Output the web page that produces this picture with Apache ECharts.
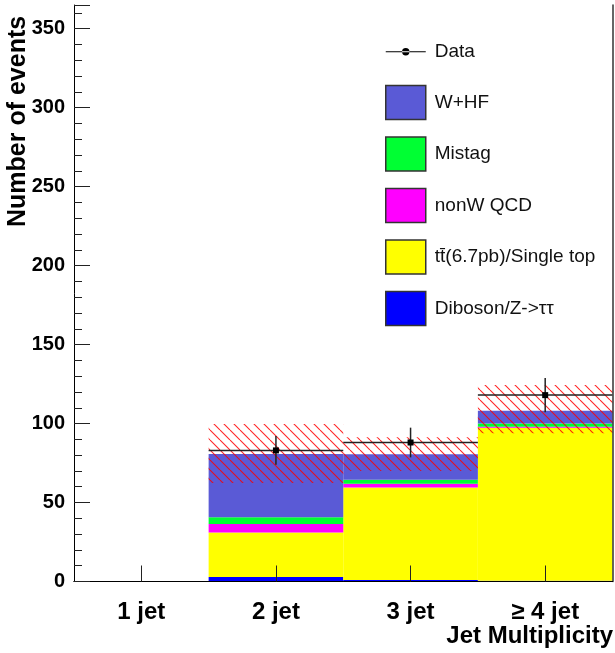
<!DOCTYPE html>
<html>
<head>
<meta charset="utf-8">
<script src="https://cdn.jsdelivr.net/npm/echarts@6/dist/echarts.min.js"></script>
<style>
html,body{margin:0;padding:0;background:#fff;}
#chart{width:615px;height:653px;}
</style>
</head>
<body>
<div id="chart"></div>
<script>
// ---- data ----
const categories = ['1 jet', '2 jet', '3 jet', '\u2265 4 jet'];
const diboson = [0, 2.8, 1.0, 0.5];
const ttbar   = [0, 28.2, 58.5, 96.8];
const nonwqcd = [0, 5.4, 2.4, 0.7];
const mistag  = [0, 4.2, 2.6, 2.0];
const whf     = [0, 40.2, 16.0, 8.1];
const dataVal = [null, 83, 88, 118];
const dataErr = [null, 9.1, 9.4, 10.9];
const bandLow  = [null, 62.3, 70.0, 93.8];
const bandHigh = [null, 99.7, 91.3, 124.4];
const yTicks = [0, 50, 100, 150, 200, 250, 300, 350];

const names = {
  data: 'Data',
  whf: 'W+HF',
  mistag: 'Mistag',
  qcd: 'nonW QCD',
  tt: 't\u0074\u0304(6.7pb)/Single top',
  dib: 'Diboson/Z->\u03c4\u03c4'
};

const FONT = 'Liberation Sans';

// hatch pattern
const T = 10;
const pc = document.createElement('canvas');
pc.width = T; pc.height = T;
const g = pc.getContext('2d');
g.strokeStyle = 'rgba(255,0,0,0.85)';
g.lineWidth = 1.1;
g.beginPath();
g.moveTo(0, 0); g.lineTo(T, T);
g.moveTo(-T, 0); g.lineTo(0, T);
g.moveTo(T, 0); g.lineTo(2 * T, T);
g.stroke();

const chart = echarts.init(document.getElementById('chart'), null, {renderer: 'canvas'});

const barSeries = (name, arr, color) => ({
  name: name, type: 'bar', stack: 'bkg', data: arr,
  barWidth: '100%', barCategoryGap: '0%',
  itemStyle: {color: color}, z: 2, silent: true,
  emphasis: {disabled: true}
});

const dataItems = [];
const bandItems = [];
for (let i = 0; i < categories.length; i++) {
  if (dataVal[i] !== null) dataItems.push([i, dataVal[i], dataErr[i]]);
  if (bandLow[i] !== null) bandItems.push([i, bandLow[i], bandHigh[i]]);
}

const boxStyle = c => ({color: c, borderColor: '#333', borderWidth: 1.5});
const dataIcon = 'path://M0,0h0.05v0.05h-0.05Z M40,34h-0.05v-0.05h0.05Z M0,16.6h40v1h-40Z M16.3,17.1a3.7,3.7 0 1 0 7.4,0a3.7,3.7 0 1 0 -7.4,0Z';

chart.setOption({
  animation: false,
  backgroundColor: '#fff',
  grid: {left: 74, right: 2.5, top: 5, bottom: 71.5, containLabel: false},
  legend: {
    orient: 'vertical', left: 385, top: 34.7, padding: 0,
    itemWidth: 40, itemHeight: 34, itemGap: 16,
    selectedMode: false,
    textStyle: {fontFamily: FONT, fontSize: 19, color: '#111', padding: [0, 0, 0, 4]},
    data: [
      {name: names.data, icon: dataIcon, itemStyle: {color: '#000', borderWidth: 0}},
      {name: names.whf, icon: 'rect', itemStyle: boxStyle('#5a5ad6')},
      {name: names.mistag, icon: 'rect', itemStyle: boxStyle('#00ff33')},
      {name: names.qcd, icon: 'rect', itemStyle: boxStyle('#ff00ff')},
      {name: names.tt, icon: 'rect', itemStyle: boxStyle('#ffff00')},
      {name: names.dib, icon: 'rect', itemStyle: boxStyle('#0000ff')}
    ]
  },
  xAxis: [{
    type: 'category', data: categories, position: 'bottom', boundaryGap: true, z: 10,
    axisLine: {show: true, lineStyle: {color: '#000', width: 1}},
    axisTick: {show: true, alignWithLabel: true, inside: true, length: 16, lineStyle: {color: '#222', width: 1}},
    axisLabel: {fontFamily: FONT, fontWeight: 'bold', fontSize: 24, color: '#000', margin: 19},
    splitLine: {show: false}
  }, {
    type: 'category', data: categories, position: 'top', z: 10,
    axisLine: {show: true, lineStyle: {color: '#000', width: 1}},
    axisTick: {show: false}, axisLabel: {show: false}, splitLine: {show: false}
  }],
  yAxis: [{
    type: 'value', min: 0, max: 365, interval: 50, position: 'left', z: 10,
    axisLine: {show: true, lineStyle: {color: '#000', width: 1}},
    axisTick: {show: true, inside: true, length: 16, lineStyle: {color: '#222', width: 1}},
    minorTick: {show: true, splitNumber: 5, length: 8, lineStyle: {color: '#222', width: 1}},
    axisLabel: {
      fontFamily: FONT, fontWeight: 'bold', fontSize: 20, color: '#000', margin: 9,
      showMaxLabel: false,
      formatter: v => (yTicks.indexOf(v) >= 0 ? String(v) : '')
    },
    splitLine: {show: false}
  }, {
    type: 'value', min: 0, max: 365, position: 'right', z: 10,
    axisLine: {show: true, lineStyle: {color: '#333', width: 1.5}},
    axisTick: {show: false}, axisLabel: {show: false}, splitLine: {show: false}
  }],
  series: [
    barSeries(names.dib, diboson, '#0000ff'),
    barSeries(names.tt, ttbar, '#ffff00'),
    barSeries(names.qcd, nonwqcd, '#ff00ff'),
    barSeries(names.mistag, mistag, '#00ff33'),
    barSeries(names.whf, whf, '#5a5ad6'),
    {
      name: 'band', type: 'custom', z: 3, silent: true, data: bandItems,
      renderItem: (params, api) => {
        const x = api.value(0);
        const lo = api.coord([x, api.value(1)]);
        const hi = api.coord([x, api.value(2)]);
        const w = api.size([1, 0])[0];
        return {
          type: 'rect',
          shape: {x: lo[0] - w / 2, y: hi[1], width: w, height: lo[1] - hi[1]},
          style: {fill: {image: pc, repeat: 'repeat'}}
        };
      }
    },
    {
      name: names.data, type: 'custom', z: 4, silent: true, data: dataItems,
      itemStyle: {color: '#000'},
      renderItem: (params, api) => {
        const x = api.value(0), y = api.value(1), e = api.value(2);
        const c = api.coord([x, y]);
        const t = api.coord([x, y + e]);
        const b = api.coord([x, y - e]);
        const w = api.size([1, 0])[0];
        const ls = {stroke: '#222', lineWidth: 1.5};
        return {
          type: 'group', children: [
            {type: 'line', shape: {x1: c[0] - w / 2, y1: c[1], x2: c[0] + w / 2, y2: c[1]}, style: ls},
            {type: 'line', shape: {x1: c[0], y1: t[1], x2: c[0], y2: b[1]}, style: ls},
            {type: 'rect', shape: {x: c[0] - 3, y: c[1] - 3, width: 6, height: 6}, style: {fill: '#000'}}
          ]
        };
      }
    }
  ],
  graphic: [
    {
      type: 'text', x: 18, y: 227, rotation: Math.PI / 2,
      style: {text: 'Number of events', fontFamily: FONT, fontWeight: 'bold', fontSize: 25,
              fill: '#000', align: 'left', verticalAlign: 'middle'}
    },
    {
      type: 'text', x: 613, y: 636,
      style: {text: 'Jet Multiplicity', fontFamily: FONT, fontWeight: 'bold', fontSize: 24,
              fill: '#000', align: 'right', verticalAlign: 'middle'}
    }
  ]
});
</script>
</body>
</html>
